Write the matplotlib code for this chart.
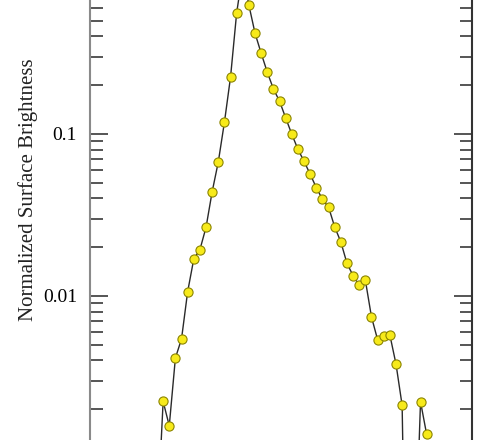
import numpy as np
import matplotlib
matplotlib.use("Agg")
import matplotlib.pyplot as plt

# radial bin index (peak at 0)
radius = list(range(-14, 31))
brightness = [3.8e-4, 0.002234, 0.001581, 0.004141, 0.005433, 0.01063, 0.01692, 0.01931,
              0.02655, 0.04403, 0.06719, 0.1181, 0.2248, 0.5608, 1.0,
              0.6227, 0.4183, 0.3148, 0.2404, 0.1896, 0.1592, 0.1256, 0.0996,
              0.0804, 0.0678, 0.0564, 0.0466, 0.0395, 0.0353, 0.02666, 0.02154,
              0.01591, 0.01334, 0.01164, 0.01250, 0.00742, 0.00537, 0.00564,
              0.00574, 0.00380, 0.002115, 1.2e-5, 1.7e-4, 0.002226, 0.001400]
ytick_vals = [0.01, 0.1]
ytick_labels = ["0.01", "0.1"]
ylabel = "Normalized Surface Brightness"

W, H = 500, 440
fig = plt.figure(figsize=(W / 100, H / 100), dpi=100)
# axes extends beyond canvas top and bottom (cropped view)
left_px, right_px = 89.6, 472.3
top_px, bot_px = -50.0, 490.0
ax = fig.add_axes([left_px / W, 1 - bot_px / H, (right_px - left_px) / W, (bot_px - top_px) / H])

ax.plot(radius, brightness, color="#2a2a2a", lw=1.0, marker="o", ms=6.6,
        mfc="#f7ea1a", mec="#8c8500", mew=0.8, zorder=3)

ax.set_yscale("log")
# y pixel -> log10 value: log = -1 - (y - 134)/162
ax.set_ylim(10 ** (-1 - (bot_px - 134) / 162), 10 ** (-1 - (top_px - 134) / 162))
ax.set_xlim(-25.0, 37.45)

ax.set_yticks(ytick_vals)
ax.set_yticklabels(ytick_labels)
ax.tick_params(axis="y", which="major", direction="in", length=13, width=1.4,
               color="#555555", labelsize=14, pad=9, left=True, right=True)
ax.tick_params(axis="y", which="minor", direction="in", length=9, width=1.4,
               color="#555555", left=True, right=True)
for lab in ax.get_yticklabels():
    lab.set_fontfamily("Liberation Serif")
ax.tick_params(axis="x", which="both", bottom=False, top=False, labelbottom=False)

ax.spines["left"].set_color("#8a8a8a")
ax.spines["left"].set_linewidth(1.5)
ax.spines["right"].set_color("#333333")
ax.spines["right"].set_linewidth(1.5)
ax.spines["top"].set_visible(False)
ax.spines["bottom"].set_visible(False)

ax.set_ylabel(ylabel, fontsize=15, fontfamily="Liberation Serif", color="#222222")
ax.yaxis.set_label_coords((38.3 - left_px) / (right_px - left_px), (bot_px - 190) / (bot_px - top_px))

fig.savefig("out.png", dpi=100)
